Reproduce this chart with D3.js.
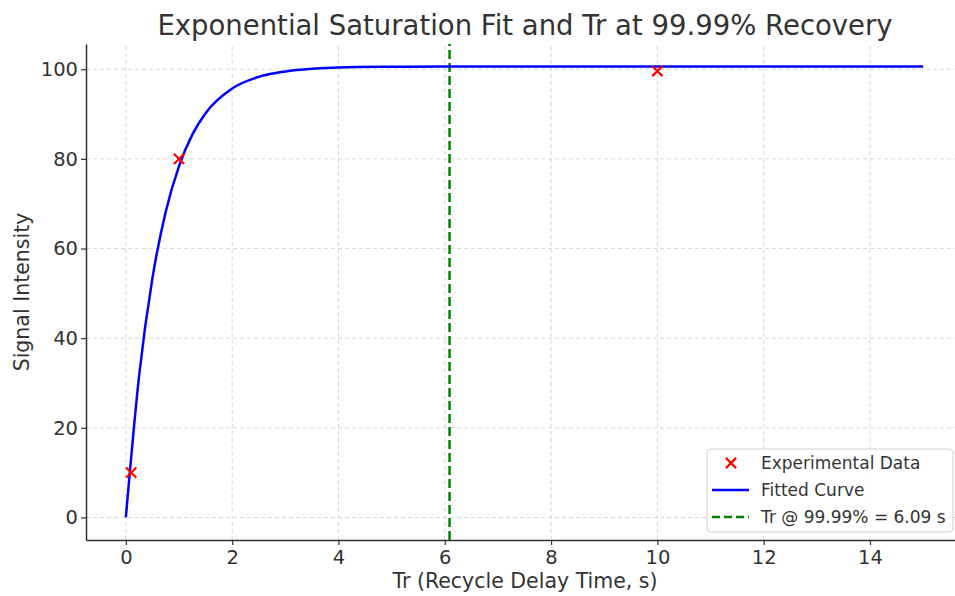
<!DOCTYPE html>
<html>
<head>
<meta charset="utf-8">
<script src="https://cdn.jsdelivr.net/npm/d3@7"></script>
<style>
  body { margin: 0; background: #fff; }
  text { font-family: "DejaVu Sans", sans-serif; fill: #333; }
</style>
</head>
<body>
<div id="chart"></div>
<script>
// measured points
var expT = [0.1, 1, 10];
var expSignal = [10, 80, 99.6];

// fitted curve
var fitT = [0, 0.25, 0.5, 0.75, 1, 1.25, 1.5, 2, 2.5, 3, 3.5, 4, 5, 6, 8, 10, 15];
var fitSignal = [0, 31.7, 53.4, 68.2, 78.4, 85.4, 90.2, 95.7, 98.3, 99.5, 100.1, 100.4, 100.55, 100.6, 100.6, 100.6, 100.6];

var trRecovery = 6.09;

var xTicks = [0, 2, 4, 6, 8, 10, 12, 14];
var yTicks = [0, 20, 40, 60, 80, 100];

var width = 955, height = 596;
var margin = { top: 44, right: -8, bottom: 56, left: 86 };

var svg = d3.select("#chart").append("svg")
  .attr("width", width)
  .attr("height", height);

var x = d3.scaleLinear().domain([-0.75, 15.75]).range([margin.left, width - margin.right]);
var y = d3.scaleLinear().domain([-5.03, 105.63]).range([height - margin.bottom, margin.top]);

// Grid
var grid = svg.append("g").attr("class", "grid");
grid.selectAll(".gx").data(xTicks).enter().append("line")
  .attr("x1", d => x(d)).attr("x2", d => x(d))
  .attr("y1", y.range()[0]).attr("y2", y.range()[1])
  .style("stroke", "#cccccc").style("stroke-width", 0.8).style("stroke-dasharray", "4,3");
grid.selectAll(".gy").data(yTicks).enter().append("line")
  .attr("y1", d => y(d)).attr("y2", d => y(d))
  .attr("x1", x.range()[0]).attr("x2", x.range()[1])
  .style("stroke", "#cccccc").style("stroke-width", 0.8).style("stroke-dasharray", "4,3");

// Axes
var xAxis = svg.append("g")
  .attr("transform", `translate(0, ${height - margin.bottom})`)
  .call(d3.axisBottom(x).tickValues(xTicks).tickSize(5).tickSizeOuter(0).tickPadding(5).tickFormat(d3.format("d")));
var yAxis = svg.append("g")
  .attr("transform", `translate(${margin.left}, 0)`)
  .call(d3.axisLeft(y).tickValues(yTicks).tickSize(5).tickSizeOuter(0).tickPadding(3).tickFormat(d3.format("d")));
[xAxis, yAxis].forEach(function (a) {
  a.select(".domain").style("stroke", "#333").style("stroke-width", 1.5);
  a.selectAll(".tick line").style("stroke", "#333").style("stroke-width", 1.2);
  a.selectAll(".tick text").style("font-size", "19.5px").style("fill", "#333")
    .style("font-family", "DejaVu Sans, sans-serif");
});

// Tr line
svg.append("line")
  .attr("x1", x(trRecovery)).attr("x2", x(trRecovery))
  .attr("y1", y.range()[0]).attr("y2", y.range()[1])
  .style("stroke", "#008000").style("stroke-width", 2.5).style("stroke-dasharray", "9,4");

// Fitted curve
var line = d3.line()
  .x((d, i) => x(fitT[i]))
  .y(d => y(d))
  .curve(d3.curveMonotoneX);
svg.append("path")
  .datum(fitSignal)
  .attr("d", line)
  .style("fill", "none").style("stroke", "#0000ff").style("stroke-width", 2.5);

// Experimental points
var cross = d3.symbol().type(d3.symbolX).size(70);
svg.selectAll(".pt").data(expT).enter().append("path")
  .attr("d", cross)
  .attr("transform", (d, i) => `translate(${x(d)}, ${y(expSignal[i])})`)
  .style("stroke", "#ff0000").style("stroke-width", 2.2).style("fill", "none");

// Title and labels
svg.append("text")
  .attr("x", 525).attr("y", 35)
  .attr("text-anchor", "middle")
  .style("font-size", "27.5px")
  .text("Exponential Saturation Fit and Tr at 99.99% Recovery");
svg.append("text")
  .attr("x", 525).attr("y", 588)
  .attr("text-anchor", "middle")
  .style("font-size", "20.5px")
  .text("Tr (Recycle Delay Time, s)");
svg.append("text")
  .attr("transform", "translate(29, 292) rotate(-90)")
  .attr("text-anchor", "middle")
  .style("font-size", "20.5px")
  .text("Signal Intensity");

// Legend
var legend = svg.append("g").attr("transform", "translate(707, 449)");
legend.append("rect")
  .attr("width", 246).attr("height", 83).attr("rx", 4)
  .style("fill", "#fff").style("fill-opacity", 0.85)
  .style("stroke", "#d0d0d0").style("stroke-width", 1);
var items = ["Experimental Data", "Fitted Curve", "Tr @ 99.99% = 6.09 s"];
items.forEach(function (label, i) {
  var cy = 14 + i * 27;
  if (i === 0) {
    legend.append("path").attr("d", cross)
      .attr("transform", `translate(24, ${cy})`)
      .style("stroke", "#ff0000").style("stroke-width", 2.2).style("fill", "none");
  } else {
    legend.append("line")
      .attr("x1", 5).attr("x2", 42).attr("y1", cy).attr("y2", cy)
      .style("stroke", i === 1 ? "#0000ff" : "#008000")
      .style("stroke-width", 2.5)
      .style("stroke-dasharray", i === 2 ? "8,4" : null);
  }
  legend.append("text")
    .attr("x", 54).attr("y", cy + 6)
    .style("font-size", "17px")
    .text(label);
});
</script>
</body>
</html>
